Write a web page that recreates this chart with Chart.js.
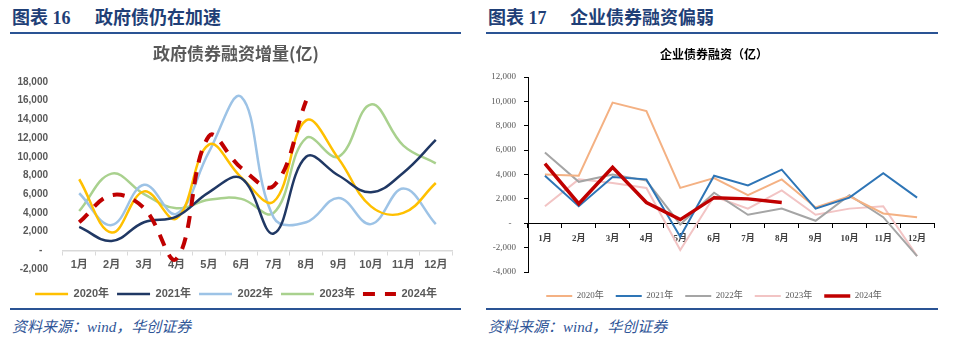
<!DOCTYPE html>
<html><head><meta charset="utf-8">
<script src="https://cdn.jsdelivr.net/npm/chart.js@4.4.1/dist/chart.umd.min.js"></script>
<style>
html,body{margin:0;padding:0;background:#fff;width:960px;height:353px;overflow:hidden;}
body{position:relative;}
.h{position:absolute;top:7px;font-family:"Liberation Serif","Noto Sans CJK SC",serif;font-weight:700;font-size:18px;color:#1F3F77;line-height:22px;white-space:nowrap;}
.rule{position:absolute;height:2px;background:#2A5394;z-index:2;}
.src{position:absolute;top:317px;font-family:"Liberation Serif","Noto Sans CJK SC",serif;font-style:italic;font-size:15px;color:#2F5597;line-height:20px;white-space:nowrap;}
.cw{position:absolute;top:38px;width:472px;height:273px;}
</style></head>
<body>
<div class="h" style="left:12px">图表 16</div>
<div class="h" style="left:95px">政府债仍在加速</div>
<div class="rule" style="left:10px;width:451px;top:32px"></div>
<div class="h" style="left:488px">图表 17</div>
<div class="h" style="left:570px">企业债券融资偏弱</div>
<div class="rule" style="left:486px;width:452px;top:32px"></div>

<div class="cw" style="left:0"><canvas id="c1"></canvas></div>
<div class="cw" style="left:480px"><canvas id="c2"></canvas></div>

<div class="rule" style="left:10px;width:451px;top:308px"></div>
<div class="rule" style="left:486px;width:452px;top:308px"></div>
<div class="src" style="left:12px">资料来源：wind，华创证券</div>
<div class="src" style="left:488px">资料来源：wind，华创证券</div>

<script>
// ---- data ----
const months = ['1月','2月','3月','4月','5月','6月','7月','8月','9月','10月','11月','12月'];
const yearNames = ['2020年','2021年','2022年','2023年','2024年'];

// 政府债券融资增量(亿)
const gov2020 = [7600, 1900, 6300, 3400, 11300, 7800, 5200, 13900, 9800, 4700, 4000, 7200];
const gov2021 = [2500, 1000, 3000, 3600, 6200, 7700, 1800, 10000, 8000, 6200, 8300, 11800];
const gov2022 = [6100, 2700, 7000, 3900, 10500, 16400, 3500, 3000, 5600, 2800, 6600, 2800];
const gov2023 = [4200, 8200, 6000, 4500, 5400, 5500, 4000, 12000, 10000, 15600, 11200, 9300];
const gov2024 = [3000, 5900, 4500, -900, 12200, 8800, 6900, 16000];
const govYTicks = [-2000, 0, 2000, 4000, 6000, 8000, 10000, 12000, 14000, 16000, 18000];

// 企业债券融资（亿）
const corp2020 = [4000, 3900, 9900, 9200, 2900, 3700, 2300, 3600, 1300, 2200, 800, 500];
const corp2021 = [3900, 1400, 3800, 3600, -1100, 3900, 3100, 4400, 1200, 2100, 4100, 2100];
const corp2022 = [5800, 3400, 4000, 3500, -100, 2500, 700, 1200, 200, 2300, 500, -2700];
const corp2023 = [1400, 3600, 3300, 2900, -2200, 2200, 1200, 2700, 700, 1200, 1400, -2700];
const corp2024 = [4900, 1600, 4600, 1700, 300, 2100, 2000, 1700];
const corpYTicks = [-4000, -2000, 0, 2000, 4000, 6000, 8000, 10000, 12000];

// ---- helpers ----
function fmt(v){
  if (v === 0) return '-  ';
  const s = Math.abs(v).toString().replace(/\B(?=(\d{3})+(?!\d))/g, ',');
  return (v < 0 ? '-' : '') + s;
}
const SANS = '"Liberation Sans","Noto Sans CJK SC",sans-serif';
const SERIF = '"Liberation Serif","Noto Sans CJK SC",serif';
function fixWidth(w){
  return s => { s.width = w; s._computeLabelArea = () => undefined; };
}
function lineLegendLabels(chart){
  const items = Chart.defaults.plugins.legend.labels.generateLabels(chart);
  items.forEach(it => {
    const ds = chart.data.datasets[it.datasetIndex];
    it.lineDash = ds.borderDash || [];
    it.lineWidth = ds.borderWidth;
    it.strokeStyle = ds.borderColor;
    it.fillStyle = ds.borderColor;
  });
  return items;
}

Chart.defaults.animation = false;

// ---- chart 1 ----
const govColors = ['#FFC000', '#203864', '#9DC3E6', '#A9D18E', '#C00000'];
const govSeries = [gov2020, gov2021, gov2022, gov2023, gov2024];
const govOrder = [2, 1, 3, 4, 0];
new Chart(document.getElementById('c1'), {
  type: 'line',
  data: {
    labels: months,
    datasets: govSeries.map((d, i) => ({
      label: yearNames[i],
      data: d,
      borderColor: govColors[i],
      backgroundColor: govColors[i],
      borderWidth: i === 4 ? 4 : 2.5,
      borderDash: i === 4 ? [12, 10] : [],
      pointRadius: 0,
      tension: 0.4,
      fill: false,
      order: govOrder[i]
    }))
  },
  options: {
    responsive: true,
    maintainAspectRatio: false,
    devicePixelRatio: 1,
    layout: { padding: { left: 20, right: 20, top: 0, bottom: 1.5 } },
    plugins: {
      tooltip: { enabled: false },
      title: {
        display: true,
        text: '政府债券融资增量(亿)',
        color: '#595959',
        font: { family: '"Noto Sans CJK SC",sans-serif', size: 17, weight: 'bold' },
        padding: { top: 5, bottom: 18.6 }
      },
      legend: {
        position: 'bottom',
        title: { display: true, text: '', font: { size: 1, lineHeight: 1 }, padding: { top: 10.5, bottom: 0 } },
        labels: {
          usePointStyle: true,
          pointStyle: 'line',
          pointStyleWidth: 33,
          padding: 8,
          color: '#595959',
          font: { family: SANS, size: 11, weight: 'bold' },
          generateLabels: lineLegendLabels,
          sort: (a, b) => a.datasetIndex - b.datasetIndex
        }
      }
    },
    scales: {
      x: {
        position: { y: 0 },
        offset: true,
        grid: { display: true, drawOnChartArea: false, drawTicks: true, tickLength: 4, offset: true, color: '#D9D9D9' },
        border: { display: true, color: '#D9D9D9', width: 1.5 },
        ticks: { padding: 4, color: '#595959', font: { family: SANS, size: 11, weight: 'bold' }, maxRotation: 0, autoSkip: false }
      },
      y: {
        min: govYTicks[0],
        max: govYTicks[govYTicks.length - 1],
        afterBuildTicks: s => { s.ticks = govYTicks.map(v => ({ value: v })); },
        afterFit: fixWidth(43),
        grid: { display: false, drawTicks: false },
        border: { display: false },
        ticks: { padding: 15, color: '#595959', font: { family: SANS, size: 10, weight: 'bold' }, callback: v => fmt(v) }
      }
    }
  }
});

// ---- chart 2 ----
const corpColors = ['#F4B183', '#2E75B6', '#A5A5A5', '#F2C4C4', '#C00000'];
const corpSeries = [corp2020, corp2021, corp2022, corp2023, corp2024];
const corpOrder = [2, 1, 3, 4, 0];
new Chart(document.getElementById('c2'), {
  type: 'line',
  data: {
    labels: months,
    datasets: corpSeries.map((d, i) => ({
      label: yearNames[i],
      data: d,
      borderColor: corpColors[i],
      backgroundColor: corpColors[i],
      borderWidth: i === 4 ? 3.5 : 2,
      pointRadius: 0,
      tension: 0,
      fill: false,
      order: corpOrder[i]
    }))
  },
  options: {
    responsive: true,
    maintainAspectRatio: false,
    devicePixelRatio: 1,
    layout: { padding: { left: 14, right: 18, top: 0, bottom: 0.5 } },
    plugins: {
      tooltip: { enabled: false },
      title: {
        display: true,
        text: '企业债券融资（亿）',
        color: '#000000',
        font: { family: '"Noto Sans CJK SC",sans-serif', size: 12, weight: 'bold' },
        padding: { top: 8.8, bottom: 15.8 }
      },
      legend: {
        position: 'bottom',
        title: { display: true, text: '', font: { size: 1, lineHeight: 1 }, padding: { top: 6.5, bottom: 0 } },
        labels: {
          usePointStyle: true,
          pointStyle: 'line',
          pointStyleWidth: 26,
          padding: 12,
          color: '#595959',
          font: { family: SERIF, size: 9 },
          generateLabels: lineLegendLabels,
          sort: (a, b) => a.datasetIndex - b.datasetIndex
        }
      }
    },
    scales: {
      x: {
        position: { y: 0 },
        offset: true,
        grid: { display: true, drawOnChartArea: false, drawTicks: true, tickLength: 4, offset: true, color: '#000000' },
        border: { display: true, color: '#000000', width: 1 },
        ticks: { padding: 6, color: '#404040', font: { family: SERIF, size: 9, weight: 'bold' }, maxRotation: 0, autoSkip: false }
      },
      y: {
        min: corpYTicks[0],
        max: corpYTicks[corpYTicks.length - 1],
        afterBuildTicks: s => { s.ticks = corpYTicks.map(v => ({ value: v })); },
        afterFit: fixWidth(34),
        grid: { display: true, drawOnChartArea: false, drawTicks: true, tickLength: 4, color: '#000000' },
        border: { display: true, color: '#000000', width: 1 },
        ticks: { padding: 8, color: '#595959', font: { family: SERIF, size: 9 }, callback: v => fmt(v) }
      }
    }
  }
});
</script>
</body></html>
